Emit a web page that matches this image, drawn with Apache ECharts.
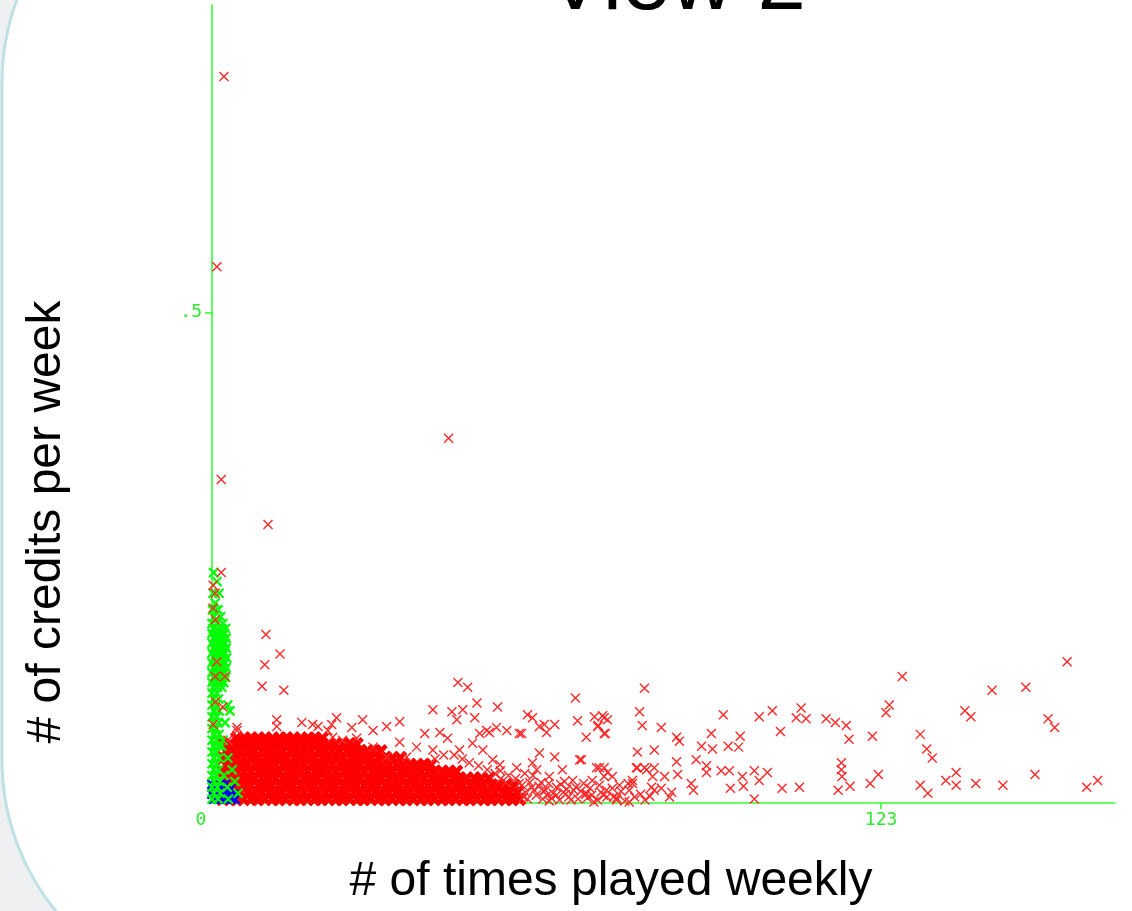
<!DOCTYPE html>
<html>
<head>
<meta charset="utf-8">
<script src="https://cdn.jsdelivr.net/npm/echarts@6/dist/echarts.min.js"></script>
<style>
html,body{margin:0;padding:0;background:#eef0f2;}
#chart{width:1132px;height:911px;}
</style>
</head>
<body>
<div id="chart"></div>
<script>
// ---- data (x: times played weekly, y: credits per week) ----
const titleText = 'View 2';
const xName = '# of times played weekly';
const yName = '# of credits per week';
const xTickValues = [123];
const xLabelValues = [0, 123];
const yTickValues = [0.5];
const xMax = 166;
const yMax = 0.814;

// dense red mass near the bottom-left: one row of x values per y level
const redCoreY = [0.004, 0.011, 0.018, 0.025, 0.032, 0.039, 0.046, 0.053, 0.060, 0.066];
const redCoreX = [
  [2.0,3.3,4.5,5.8,7.2,8.4,9.7,11.1,12.3,13.6,15.0,16.2,17.5,18.9,20.1,21.4,22.8,24.0,25.3,26.7,27.9,29.2,30.6,31.8,33.1,34.5,35.7,37.0,38.4,39.6,40.9,42.3,43.5,44.8,46.2,47.4,48.7,50.1,51.3,52.6,54.0,55.2,56.5],
  [2.6,3.9,5.2,6.6,7.8,9.1,10.5,11.7,13.0,14.4,15.6,16.9,18.3,19.5,20.8,22.2,23.4,24.7,26.1,27.3,28.6,30.0,31.2,32.5,33.9,35.1,36.4,37.8,39.0,40.3,41.7,42.9,44.2,45.6,46.8,48.1,49.5,50.7,52.0,53.4,54.7,56.1],
  [2.0,3.2,4.6,5.9,7.1,8.5,9.8,11.0,12.4,13.7,14.9,16.3,17.6,18.8,20.2,21.5,22.7,24.1,25.4,26.6,28.0,29.3,30.5,31.9,33.2,34.4,35.8,37.1,38.3,39.7,41.0,42.2,43.6,44.9,46.1,47.5,48.8,50.0,51.4,52.7,54.0,55.5],
  [2.6,3.9,5.3,6.5,7.8,9.2,10.4,11.7,13.1,14.3,15.6,17.0,18.2,19.5,20.9,22.1,23.4,24.8,26.0,27.3,28.7,29.9,31.2,32.6,33.8,35.1,36.5,37.7,39.0,40.4,41.6,42.9,44.3,45.5,46.8,48.2,49.5,50.9],
  [2.0,3.3,4.6,5.9,7.2,8.6,9.8,11.1,12.4,13.8,15.0,16.3,17.6,19.0,20.2,21.5,22.8,24.2,25.4,26.7,28.0,29.4,30.6,31.9,33.2,34.6,35.8,37.1,38.4,39.8,41.0,42.3,43.6,44.9],
  [2.6,3.9,5.2,6.5,7.9,9.1,10.4,11.7,13.1,14.3,15.6,16.9,18.3,19.5,20.8,22.1,23.5,24.7,26.0,27.3,28.7,29.9,31.2,32.5,33.9,35.1,36.4,37.7,39.0,40.2],
  [2.0,3.3,4.6,5.9,7.2,8.5,9.9,11.1,12.4,13.7,15.1,16.3,17.6,18.9,20.3,21.5,22.8,24.1,25.5,26.7,28.0,29.3,30.7,31.9,33.2,34.6],
  [2.6,3.9,5.2,6.5,7.8,9.2,10.4,11.7,13.0,14.4,15.6,16.9,18.2,19.6,20.8,22.1,23.4,24.8,26.0,27.3,28.6,29.9,31.0],
  [2.0,3.3,4.6,5.9,7.2,8.5,9.8,11.2,12.4,13.7,15.0,16.4,17.6,18.9,20.2,21.6,22.8,24.1,25.4,26.6],
  [4.6,5.9,7.2,8.5,9.8,11.1,12.5,13.7,15.0,16.3,17.7,18.9,20.2]
];

// scattered red points (halo, right side, outliers)
const redScatter = [
  [2.2,0.741],[0.9,0.547],[1.7,0.330],[43.5,0.372],[10.3,0.284],[1.7,0.235],[9.9,0.172],[12.5,0.152],[9.7,0.141],[9.2,0.119],[13.2,0.115],
  [0.2,0.222],[0.6,0.214],[0.2,0.199],[0.6,0.187],[0.9,0.144],[0.6,0.129],[2.4,0.129],[0.6,0.103],[2.0,0.098],[0.2,0.080],[2.9,0.064],[4.6,0.074],[11.9,0.085],[11.9,0.078],
  [45.2,0.123],[47.0,0.118],[48.7,0.102],[52.5,0.098],[66.8,0.107],[67.2,0.084],[40.6,0.095],[44.1,0.093],[46.1,0.095],[48.3,0.087],[58.0,0.090],[58.9,0.087],
  [4.6,0.077],[16.5,0.082],[18.5,0.080],[22.9,0.087],[22.0,0.080],[27.7,0.085],[32.1,0.078],[34.5,0.083],[21.3,0.074],[19.5,0.078],[25.7,0.077],[29.6,0.074],
  [39.1,0.071],[41.9,0.072],[43.3,0.066],[45.0,0.085],[50.5,0.074],[52.3,0.077],[54.2,0.074],[56.5,0.071],[60.2,0.078],[61.5,0.072],[63.0,0.080],[68.8,0.067],
  [70.3,0.088],[72.1,0.087],[70.9,0.078],[72.1,0.071],[63.0,0.047],[60.2,0.051],[52.9,0.039],[58.9,0.041],[64.4,0.034],[67.6,0.044],[70.7,0.036],[73.6,0.027],
  [56.0,0.036],[51.6,0.044],[49.8,0.054],[47.9,0.061],[45.5,0.054],[40.6,0.054],[37.6,0.057],[35.8,0.047],[32.1,0.047],[34.5,0.062],[29.6,0.057],[24.0,0.064],
  [26.6,0.066],[22.2,0.067],[79.5,0.117],[78.6,0.093],[79.1,0.079],[72.7,0.085],[71.0,0.079],[72.3,0.071],[78.2,0.052],[81.3,0.054],[56.9,0.071],[61.1,0.080],
  [51.0,0.072],[49.2,0.071],[67.9,0.044],[71.2,0.036],[72.7,0.031],[78.2,0.036],[79.9,0.034],[69.9,0.023],[74.9,0.018],[77.3,0.023],[77.7,0.006],[81.3,0.013],
  [76.7,0.013],[74.4,0.005],[66.3,0.023],[59.7,0.034],[56.5,0.020],[63.3,0.016],[68.8,0.010],[72.5,0.013],
  [58.0,0.004],[59.6,0.008],[60.8,0.004],[62.4,0.005],[63.9,0.003],[65.6,0.006],[67.3,0.004],[69.0,0.005],[70.9,0.003],[72.6,0.006],
  [57.6,0.011],[59.2,0.013],[60.9,0.012],[62.7,0.010],[64.6,0.011],[66.5,0.013],[68.7,0.009],[61.6,0.008],[65.0,0.009],[66.9,0.016],
  [69.8,0.008],[71.5,0.011],[57.0,0.018],[58.4,0.021],[60.5,0.021],[62.0,0.027],[64.8,0.022],[57.5,0.030],[54.5,0.028],[53.0,0.033],
  [57.3,0.006],[58.8,0.016],[60.1,0.017],[61.3,0.013],[62.0,0.002],[63.3,0.008],[64.1,0.019],[65.2,0.014],[66.0,0.003],[67.8,0.012],
  [68.3,0.020],[69.5,0.015],[70.2,0.001],[71.2,0.018],[72.0,0.008],[73.8,0.006],[75.2,0.012],[75.9,0.002],[76.5,0.020],[78.8,0.009],
  [79.6,0.003],[80.5,0.007],[61.9,0.020],[59.0,0.028],[55.8,0.025],[54.0,0.021],[53.1,0.025],[52.0,0.030],[50.6,0.034],[49.0,0.038],
  [47.3,0.041],[46.0,0.045],[44.5,0.049],[42.6,0.049],[41.0,0.045],
  [71.8,0.089],[82.6,0.077],[85.4,0.067],[85.9,0.063],[90.0,0.058],[91.8,0.071],[92.0,0.055],[94.0,0.090],[94.9,0.058],[96.8,0.057],[97.1,0.068],
  [100.6,0.088],[103.0,0.094],[104.5,0.073],[107.4,0.087],[108.3,0.097],[109.2,0.086],[112.9,0.086],[114.6,0.082],[116.6,0.079],[117.1,0.065],
  [121.4,0.068],[123.9,0.092],[124.5,0.100],[126.9,0.129],[130.2,0.070],[131.4,0.055],[132.4,0.046],[138.4,0.094],[139.5,0.088],[143.4,0.115],
  [149.6,0.118],[153.7,0.086],[154.9,0.077],[157.2,0.144],
  [72.1,0.036],[72.1,0.027],[78.0,0.036],[79.5,0.036],[81.3,0.036],[81.0,0.027],[85.4,0.042],[89.0,0.044],[90.9,0.038],[90.9,0.031],[93.6,0.033],
  [95.1,0.033],[97.5,0.027],[99.7,0.033],[100.6,0.023],[102.1,0.031],[115.7,0.041],[115.7,0.034],[115.8,0.027],[122.5,0.029],[121.0,0.020],
  [117.3,0.017],[115.1,0.013],[130.2,0.018],[131.6,0.010],[134.9,0.023],[136.8,0.031],[136.8,0.018],[140.4,0.020],[145.4,0.018],[151.3,0.029],
  [160.8,0.016],[162.8,0.023],[104.8,0.015],[108.0,0.016],[99.7,0.004],[95.3,0.015],[97.7,0.017],[88.5,0.013],[88.1,0.020],[84.5,0.011],
  [84.1,0.006],[82.6,0.015],[77.3,0.020],[76.7,0.001],[74.4,0.003],[73.6,0.015],[85.6,0.029],[83.2,0.027],[80.8,0.016]
];

// green cluster: rows of x values per y level
const greenY = [0.235,0.226,0.214,0.204,0.197,0.190,0.183,0.178,0.173,0.168,0.163,0.158,0.153,0.148,0.143,0.138,0.133,0.128,0.123,0.118,
  0.112,0.106,0.100,0.094,0.088,0.082,0.076,0.070,0.064,0.058,0.052,0.046,0.040,0.034,0.028,0.022,0.016,0.010,0.004];
const greenX = [
  [0.3],[0.9],[0.2,1.3],[0.6],[0.1,1.1],[0.4,1.6],[0.0,0.9,2.0],
  [0.2,1.0,1.8,2.5],[0.0,0.8,1.6,2.3],[0.3,1.1,1.9,2.6],[0.0,0.8,1.6,2.4],[0.3,1.1,1.9,2.6],[0.0,0.8,1.6,2.4],
  [0.3,1.1,1.9,2.7],[0.0,0.8,1.6,2.4],[0.3,1.1,1.9,2.6],[0.0,0.8,1.6,2.3],[0.3,1.1,1.9,2.5],[0.0,0.8,1.6,2.2],[0.2,1.0,1.8],
  [0.0,0.9],[0.3,1.2],[0.0,0.8,2.9],[0.4,1.3,3.3],[0.0,0.9],[0.3,1.2,2.4],[0.0,0.8],[0.4,1.3],[0.0,0.9,2.0],[0.3,1.2,1.8],
  [0.0,0.8],[0.4,1.3,2.9],[0.0,0.9],[0.3,1.2,3.7],[0.0,0.8,2.2],[0.4,1.4,4.2],[0.0,1.0,2.8],[0.3,1.5,4.8],[0.0,1.1,3.0]
];

// blue cluster at the origin
const blueY = [0.019, 0.014, 0.009, 0.004];
const blueX = [
  [0.0,0.8,1.6,2.4],
  [0.3,1.1,1.9,2.7,3.4],
  [0.0,0.8,1.6,2.4,3.2,3.9],
  [0.3,1.1,1.9,2.7,3.5,4.2]
];

function rowsToPoints(ys, xs) {
  const out = [];
  ys.forEach((y, i) => xs[i].forEach(x => out.push([x, y])));
  return out;
}

const AXIS_GREEN = '#33ff33';
const LABEL_GREEN = '#2fe82f';
const MONO = '"DejaVu Sans Mono", monospace';
const CROSS = 'path://M0,0L10,10M10,0L0,10';

function crossSeries(data, color, size, width) {
  return {
    type: 'scatter',
    data: data,
    symbol: CROSS,
    symbolSize: size,
    itemStyle: { color: 'rgba(0,0,0,0)', borderColor: color, borderWidth: width, opacity: 1 },
    emphasis: { disabled: true },
    silent: true,
    animation: false
  };
}

const chart = echarts.init(document.getElementById('chart'), null, { renderer: 'canvas' });
chart.setOption({
  backgroundColor: '#eef0f2',
  animation: false,
  grid: { left: 212, top: 5, right: 17, bottom: 108, containLabel: false },
  graphic: [
    {
      type: 'rect', z: -10, silent: true,
      shape: { x: 2, y: -156, width: 1400, height: 1155, r: 239 },
      style: { fill: '#ffffff', stroke: '#bfe0e4', lineWidth: 3 }
    },
    {
      type: 'text', x: 676, y: -15, silent: true,
      style: { text: titleText, fill: '#000', font: '87px "Liberation Sans", Arial, sans-serif', textAlign: 'center', textVerticalAlign: 'middle' }
    },
    {
      type: 'text', x: 611, y: 882, silent: true,
      style: { text: xName, fill: '#000', font: '48px "Liberation Sans", Arial, sans-serif', textAlign: 'center', textVerticalAlign: 'middle' }
    },
    {
      type: 'text', x: 47, y: 522, rotation: Math.PI / 2, silent: true,
      style: { text: yName, fill: '#000', font: '48px "Liberation Sans", Arial, sans-serif', textAlign: 'center', textVerticalAlign: 'middle' }
    }
  ],
  xAxis: {
    type: 'value', min: 0, max: xMax,
    axisLine: { show: true, onZero: false, lineStyle: { color: AXIS_GREEN, width: 1.6 } },
    splitLine: { show: false },
    axisTick: { show: true, customValues: xTickValues, length: 6, lineStyle: { color: AXIS_GREEN, width: 1.6 } },
    axisLabel: {
      show: true, customValues: xLabelValues, margin: 8,
      color: LABEL_GREEN, fontFamily: MONO, fontSize: 18,
      formatter: v => v === 0 ? '{z|0}' : String(v),
      rich: { z: { color: LABEL_GREEN, fontFamily: MONO, fontSize: 18, padding: [0, 22, 5, 0] } }
    }
  },
  yAxis: {
    type: 'value', min: 0, max: yMax,
    axisLine: { show: true, onZero: false, lineStyle: { color: AXIS_GREEN, width: 1.6 } },
    splitLine: { show: false },
    axisTick: { show: true, customValues: yTickValues, length: 7, lineStyle: { color: AXIS_GREEN, width: 1.6 } },
    axisLabel: {
      show: true, customValues: yTickValues, margin: 10,
      color: LABEL_GREEN, fontFamily: MONO, fontSize: 18,
      formatter: v => String(v).replace(/^0/, '')
    }
  },
  series: [
    crossSeries(rowsToPoints(redCoreY, redCoreX), '#ff0000', 11, 4.6),
    crossSeries(rowsToPoints(blueY, blueX), '#0000ff', 9, 2.4),
    crossSeries(rowsToPoints(greenY, greenX), '#00ff00', 9, 2.2),
    crossSeries(redScatter, '#ff2828', 9, 1.4)
  ]
});
</script>
</body>
</html>
